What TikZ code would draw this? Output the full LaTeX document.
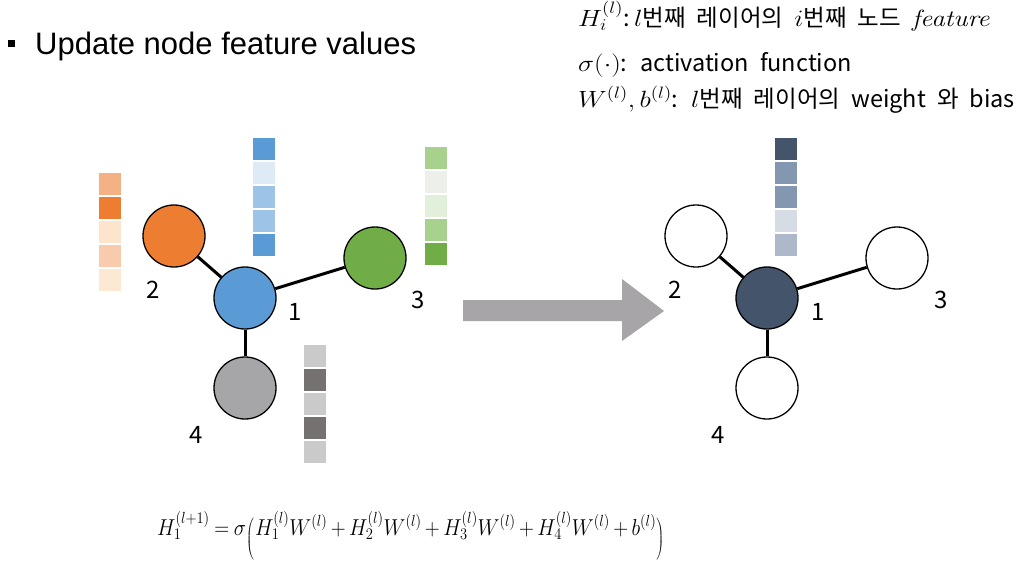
\RequirePackage{fix-cm}
\documentclass[tikz,border=0pt]{standalone}
\usepackage[no-math]{fontspec}
\setmainfont{Liberation Sans}
\newfontfamily\kr{Noto Sans CJK KR}
\newfontfamily\krw{Noto Sans CJK KR}[WordSpace=2.1]
\definecolor{o1}{HTML}{F4B183}\definecolor{o2}{HTML}{ED7D31}\definecolor{o3}{HTML}{FDE5CD}
\definecolor{o4}{HTML}{F8CBAD}\definecolor{o5}{HTML}{FDE9D3}
\definecolor{b1}{HTML}{5B9BD5}\definecolor{b2}{HTML}{DEEBF7}\definecolor{b3}{HTML}{9DC3E6}
\definecolor{g1}{HTML}{A9D18E}\definecolor{g2}{HTML}{EDF0EA}\definecolor{g3}{HTML}{E2EFDA}\definecolor{g5}{HTML}{70AD47}
\definecolor{k1}{HTML}{CACACB}\definecolor{k2}{HTML}{767171}
\definecolor{d1}{HTML}{44546A}\definecolor{d2}{HTML}{8497B0}\definecolor{d4}{HTML}{D6DCE5}\definecolor{d5}{HTML}{ADB9CA}
\definecolor{nodegray}{HTML}{A6A5A7}
\definecolor{arrowgray}{HTML}{A7A5A8}
\newcommand\fbar[3]{\foreach \c [count=\k from 0] in {#3} {\fill[fill=\c,draw=white,line width=1.2pt] (#1,{#2+24*\k}) rectangle ++(24,24);}}
\newcommand\mth[1]{\scalebox{1.15}[1]{$#1$}}
\newcommand\bigparen[1]{\raisebox{-10pt}{$\left#1\vrule height 27pt depth 15pt width 0pt\right.$}}
\begin{document}
\begin{tikzpicture}[x=1pt,y=-1pt,
  gnode/.style={circle,draw=black,line width=1.3pt,minimum size=62pt,inner sep=0pt},
  edge/.style={line width=3pt,black},
  num/.style={font=\kr\fontsize{24}{28}\selectfont,inner sep=0pt},
  legend/.style={anchor=base west,inner sep=0pt,font=\krw\fontsize{23.5}{28}\selectfont}]
\useasboundingbox (0,0) rectangle (1036,562);
\fill[white] (0,0) rectangle (1036,562);
% title
\fill (8,40) rectangle (15,47);
\node[anchor=base west,inner sep=0pt,font=\fontsize{31}{36}\selectfont] (title) at (35,54) {Update node feature values};
% legend
\node[legend] (l1) at (578,26) {\mth{H_i^{(l)}}:\mth{\,l}번째 레이어의 \mth{i}번째 노드 \mth{\mathit{feature}}};
\node[legend] (l2) at (578,71) {\mth{\sigma(\cdot)}: activation function};
\node[legend] (l3) at (578,107) {\mth{W^{(l)}, b^{(l)}}: \mth{l}번째 레이어의 weight 와 bias};
% left graph
\node[gnode,fill=o2] (a2) at (174,236) {};
\node[gnode,fill=b1] (a1) at (245,298) {};
\node[gnode,fill=g5] (a3) at (375,258) {};
\node[gnode,fill=nodegray] (a4) at (245,388) {};
\draw[edge] (a1) -- (a2);
\draw[edge] (a1) -- (a3);
\draw[edge] (a1) -- (a4);
\node[num] (t2) at (153,290) {2};
\node[num] (t1) at (295,312) {1};
\node[num] (t3) at (418,300) {3};
\node[num] (t4) at (196,435) {4};
\fbar{98}{172}{o1,o2,o3,o4,o5}
\fbar{252}{137}{b1,b2,b3,b3,b1}
\fbar{424}{146}{g1,g2,g3,g1,g5}
\fbar{303}{344}{k1,k2,k1,k2,k1}
% arrow
\fill[arrowgray] (463,300) -- (622,300) -- (622,279) -- (664,311) -- (622,341) -- (622,321) -- (463,321) -- cycle;
% right graph
\node[gnode,fill=white] (r2) at (696,236) {};
\node[gnode,fill=d1] (r1) at (767,298) {};
\node[gnode,fill=white] (r3) at (897,258) {};
\node[gnode,fill=white] (r4) at (767,388) {};
\draw[edge] (r1) -- (r2);
\draw[edge] (r1) -- (r3);
\draw[edge] (r1) -- (r4);
\node[num] (s2) at (675,290) {2};
\node[num] (s1) at (818,312) {1};
\node[num] (s3) at (941,300) {3};
\node[num] (s4) at (718,435) {4};
\fbar{774}{137}{d1,d2,d2,d4,d5}
% formula
\node[anchor=base west,inner sep=0pt,font=\fontsize{23}{28}\selectfont] (eq) at (157,535) {\resizebox{508pt}{\height}{\medmuskip=3mu\thickmuskip=4mu$H_1^{(l+1)} = \sigma\mathopen{\bigparen(}H_1^{(l)}W^{(l)} + H_2^{(l)}W^{(l)} + H_3^{(l)}W^{(l)} + H_4^{(l)}W^{(l)} + b^{(l)}\mathclose{\bigparen)}$}};
\end{tikzpicture}
\end{document}
